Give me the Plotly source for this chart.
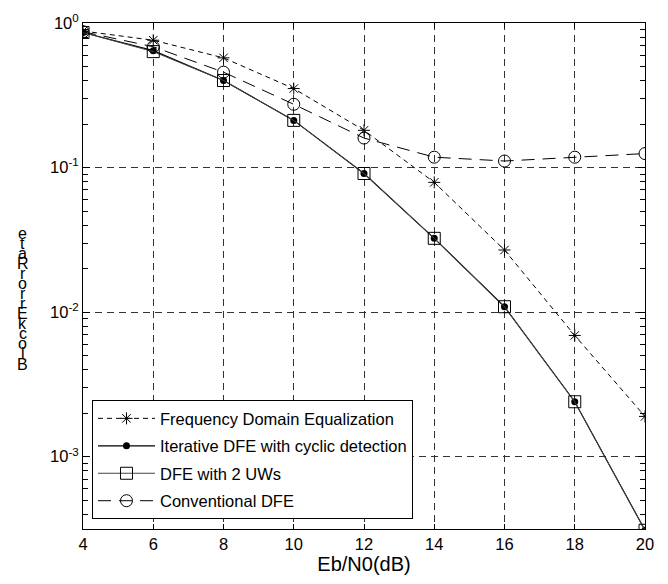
import plotly.graph_objects as go

ebn0 = [4, 6, 8, 10, 12, 14, 16, 18, 20]
fde = [0.88, 0.76, 0.574, 0.352, 0.181, 0.079, 0.0269, 0.0069, 0.0019]
iter_dfe = [0.86, 0.644, 0.40, 0.212, 0.091, 0.0324, 0.0109, 0.0024, 0.00031]
dfe_2uw = [0.86, 0.634, 0.40, 0.212, 0.091, 0.0324, 0.0109, 0.0024, 0.00031]
conv_dfe = [0.87, 0.685, 0.457, 0.274, 0.160, 0.118, 0.111, 0.118, 0.125]

names = ["Frequency Domain Equalization", "Iterative DFE with cyclic detection",
         "DFE with 2 UWs", "Conventional DFE"]
ytick_vals = [1e-3, 1e-2, 1e-1, 1]
ytick_text = ["10<sup>-3</sup>", "10<sup>-2</sup>", "10<sup>-1</sup>", "10<sup>0</sup>"]
minor_vals = [m * 10.0 ** e for e in (-4, -3, -2, -1) for m in range(2, 10)]
ylabel = "BlockErrorRate"
xlabel = "Eb/N0(dB)"

FONT = "Liberation Sans, Arial, sans-serif"
FS = 16.5

fig = go.Figure()
fig.add_trace(go.Scatter(x=ebn0, y=fde, name=names[0], mode="lines+markers",
                         line=dict(color="black", width=1, dash="5px,4px"),
                         marker=dict(symbol="asterisk-open", size=10, color="black",
                                     line=dict(color="black", width=1)),
                         legendgroup="a"))
fig.add_trace(go.Scatter(x=ebn0, y=iter_dfe, name=names[1], mode="lines+markers",
                         line=dict(color="black", width=1.2),
                         marker=dict(symbol="circle", size=7, color="black"),
                         legendgroup="b"))
fig.add_trace(go.Scatter(x=ebn0, y=dfe_2uw, name=names[2], mode="lines+markers",
                         line=dict(color="#444444", width=1),
                         marker=dict(symbol="square-open", size=12, color="black",
                                     line=dict(color="black", width=1)),
                         legendgroup="c"))
fig.add_trace(go.Scatter(x=ebn0, y=conv_dfe, name=names[3], mode="lines+markers",
                         line=dict(color="black", width=1, dash="13px,8px"),
                         marker=dict(symbol="circle-open", size=12, color="black",
                                     line=dict(color="black", width=1)),
                         legendgroup="d"))

# y label: stacked upright characters (as in the reference)
for i, ch in enumerate(ylabel):
    fig.add_annotation(text=ch, xref="paper", yref="paper", x=-0.1075, y=0.326 + i * 0.0199,
                       showarrow=False, font=dict(size=16, family=FONT, color="black"),
                       xanchor="center", yanchor="middle")

fig.update_layout(
    width=668, height=584,
    margin=dict(l=83, r=23, t=17, b=55),
    paper_bgcolor="white", plot_bgcolor="white",
    font=dict(family=FONT, size=FS, color="black"),
    showlegend=True,
    legend=dict(x=0.016, y=0.0195, xanchor="left", yanchor="bottom",
                bgcolor="white", bordercolor="black", borderwidth=1,
                font=dict(size=FS, family=FONT), tracegroupgap=3,
                traceorder="grouped", itemwidth=57),
    xaxis=dict(range=[4, 20], tickvals=ebn0, ticks="inside", ticklen=5,
               tickcolor="black", showline=True, linecolor="black", linewidth=1,
               mirror="ticks", showgrid=True, gridcolor="#333333", griddash="7px,5px",
               gridwidth=1, zeroline=False, title=dict(text=xlabel, standoff=4),
               tickfont=dict(size=FS)),
    yaxis=dict(type="log", range=[-3.5, 0], tickvals=ytick_vals, ticktext=ytick_text,
               ticks="inside", ticklen=7, tickcolor="black", showline=True,
               linecolor="black", linewidth=1, mirror="ticks", showgrid=True,
               gridcolor="#333333", griddash="7px,5px", gridwidth=1, zeroline=False,
               tickfont=dict(size=FS),
               minor=dict(tickmode="array", tickvals=minor_vals, ticks="inside",
                          ticklen=5, tickcolor="black", tickwidth=1, showgrid=False)),
)

fig.write_html("out.html", post_script="document.body.style.margin='0px';",
               config={"displayModeBar": False})
